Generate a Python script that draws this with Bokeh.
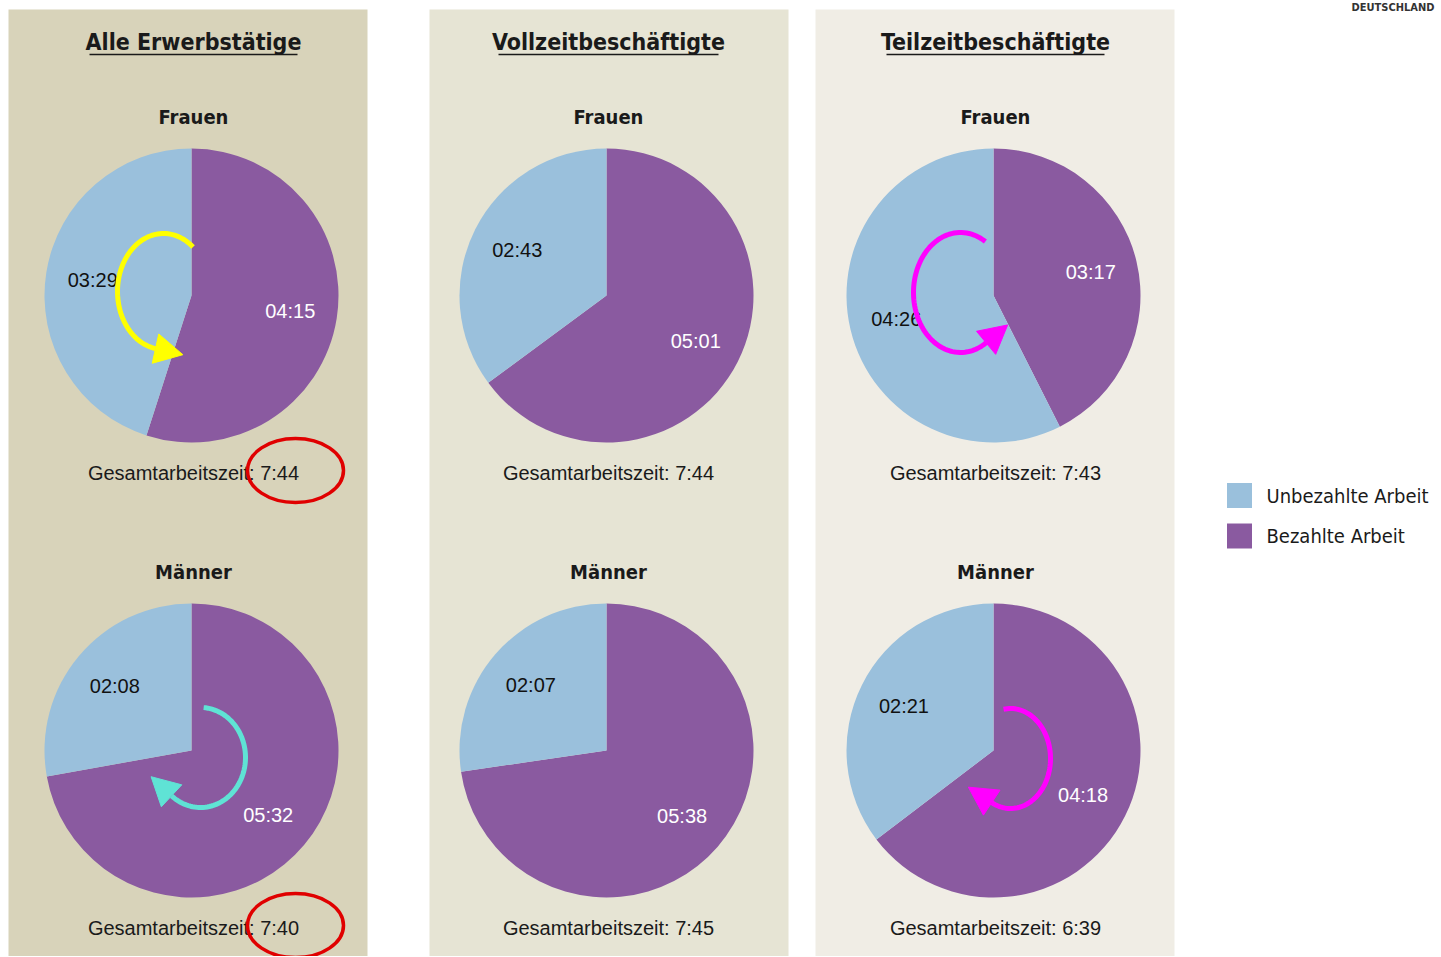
import math
from bokeh.plotting import figure
from bokeh.models import Range1d
from bokeh.core.properties import value
from bokeh.embed import file_html
from bokeh.resources import INLINE

# ---------------- data ----------------
panel_titles = ["Alle Erwerbstätige", "Vollzeitbeschäftigte", "Teilzeitbeschäftigte"]
groups = ["Frauen", "Männer"]
series_names = ["Unbezahlte Arbeit", "Bezahlte Arbeit"]
unbezahlt_frauen = ["03:29", "02:43", "04:26"]
bezahlt_frauen = ["04:15", "05:01", "03:17"]
unbezahlt_maenner = ["02:08", "02:07", "02:21"]
bezahlt_maenner = ["05:32", "05:38", "04:18"]
gesamt_frauen = ["7:44", "7:44", "7:43"]
gesamt_maenner = ["7:40", "7:45", "6:39"]
total_label = "Gesamtarbeitszeit"
corner_label = "DEUTSCHLAND"

# ---------------- layout / style ----------------
W, H = 1440, 956
PAGE = 957  # data y = PAGE - screen y


def Y(s):
    return PAGE - s


BLUE = "#9AC0DC"
PURPLE = "#8A5AA0"
panel_bg = ["#D8D3BA", "#E6E4D4", "#F0EDE5"]
panel_left = [8, 429, 815]
panel_w = 359
panel_top = 9
pie_cx = [191, 606, 993]
row_cy = [295, 750]
R = 147
title_cx = [193, 608, 995]
title_half = [104, 110, 109]
COND = "DejaVu Sans Condensed"
REG = "Liberation Sans"

p = figure(width=W, height=H, x_range=Range1d(0, W), y_range=Range1d(Y(H), Y(0)),
           output_backend="svg", toolbar_location=None, min_border=0)
p.axis.visible = False
p.grid.visible = False
p.outline_line_color = None
p.background_fill_color = "white"
p.border_fill_color = "white"


def to_min(s):
    h, m = s.split(":")
    return int(h) * 60 + int(m)


# panels
p.quad(left=panel_left, right=[l + panel_w for l in panel_left],
       top=[Y(panel_top)] * 3, bottom=[Y(H + 20)] * 3,
       fill_color=panel_bg, line_color=None)

rows = [(unbezahlt_frauen, bezahlt_frauen, gesamt_frauen),
        (unbezahlt_maenner, bezahlt_maenner, gesamt_maenner)]

lbl_x, lbl_y, lbl_t, lbl_c = [], [], [], []
for i in range(3):
    # titles
    p.text(x=[title_cx[i]], y=[Y(41)], text=[panel_titles[i]], text_font=value(COND),
           text_font_style="bold", text_font_size=value("23px"), text_align="center",
           text_baseline="middle", text_color="#1a1a1a")
    p.segment(x0=[title_cx[i] - title_half[i]], x1=[title_cx[i] + title_half[i]],
              y0=[Y(54)], y1=[Y(54)], line_color="#1a1a1a", line_width=1.6)
    for r in range(2):
        unb, bez, ges = rows[r]
        u = to_min(unb[i])
        b = to_min(bez[i])
        fb = b / (u + b)
        cx, cy = pie_cx[i], Y(row_cy[r])
        a_split = math.pi / 2 - 2 * math.pi * fb
        p.wedge(x=[cx], y=[cy], radius=R, start_angle=a_split, end_angle=math.pi / 2,
                fill_color=PURPLE, line_color=None)
        p.wedge(x=[cx], y=[cy], radius=R, start_angle=math.pi / 2,
                end_angle=a_split + 2 * math.pi, fill_color=BLUE, line_color=None)
        # labels at mid angles
        mid_b = math.pi / 2 - math.pi * fb
        mid_u = a_split - math.pi * (1 - fb)
        for ang, txt, col in ((mid_u, unb[i], "#111111"), (mid_b, bez[i], "white")):
            lbl_x.append(cx + 0.68 * R * math.cos(ang))
            lbl_y.append(cy + 0.68 * R * math.sin(ang))
            lbl_t.append(txt)
            lbl_c.append(col)
        # subtitle
        p.text(x=[title_cx[i]], y=[Y(row_cy[r] - 179)], text=[groups[r]], text_font=value(COND),
               text_font_style="bold", text_font_size=value("20px"), text_align="center",
               text_baseline="middle", text_color="#1a1a1a")
        # total
        p.text(x=[title_cx[i]], y=[Y(row_cy[r] + 177)], text=[f"{total_label}: {ges[i]}"],
               text_font=value(REG), text_font_size=value("20px"), text_align="center",
               text_baseline="middle", text_color="#1a1a1a")

p.text(x=lbl_x, y=lbl_y, text=lbl_t, text_color=lbl_c, text_font=value(REG),
       text_font_size=value("20px"), text_align="center", text_baseline="middle")

# legend
leg_y = [495, 535.5]
p.rect(x=[1239, 1239], y=[Y(v) for v in leg_y], width=25, height=25,
       fill_color=[BLUE, PURPLE], line_color=None)
p.text(x=[1266, 1266], y=[Y(v) for v in leg_y], text=series_names, text_font=value(COND),
       text_font_size=value("20px"), text_align="left", text_baseline="middle",
       text_color="#1a1a1a")

# corner label
p.text(x=[1434], y=[Y(13)], text=[corner_label], text_font=value(COND), text_font_style="bold",
       text_font_size=value("11px"), text_align="right", text_baseline="bottom",
       text_color="#333333")


# ---------------- annotations ----------------
def curved_arrow(cx, cy, rx, ry, t0, t1, color, head_len=28, head_w=30, lw=5):
    n = 80
    ts = [math.radians(t0 + (t1 - t0) * k / n) for k in range(n + 1)]
    xs = [cx + rx * math.cos(t) for t in ts]
    ys = [Y(cy) + ry * math.sin(t) for t in ts]
    p.line(xs, ys, line_color=color, line_width=lw)
    t = ts[-1]
    sgn = 1 if t1 > t0 else -1
    dx, dy = -rx * math.sin(t) * sgn, ry * math.cos(t) * sgn
    L = math.hypot(dx, dy)
    ux, uy = dx / L, dy / L
    bx, by = xs[-1], ys[-1]
    tip = (bx + ux * head_len, by + uy * head_len)
    b1 = (bx - uy * head_w / 2, by + ux * head_w / 2)
    b2 = (bx + uy * head_w / 2, by - ux * head_w / 2)
    p.patch([tip[0], b1[0], b2[0]], [tip[1], b1[1], b2[1]], fill_color=color, line_color=color)


curved_arrow(163, 291, 46, 58, 50, 260, "#FFFF00")
curved_arrow(200, 757, 45, 50, 86, -130, "#5FE3D5")
curved_arrow(960, 292, 47, 60, 58, 303, "#FF00FF")
curved_arrow(1010, 758, 40, 50, 100, -118, "#FF00FF")

p.ellipse(x=[295, 295], y=[Y(470), Y(925)], width=96, height=64, fill_alpha=0,
          line_color="#E00000", line_width=3.5)

open("out.html", "w").write(file_html(p, INLINE))
